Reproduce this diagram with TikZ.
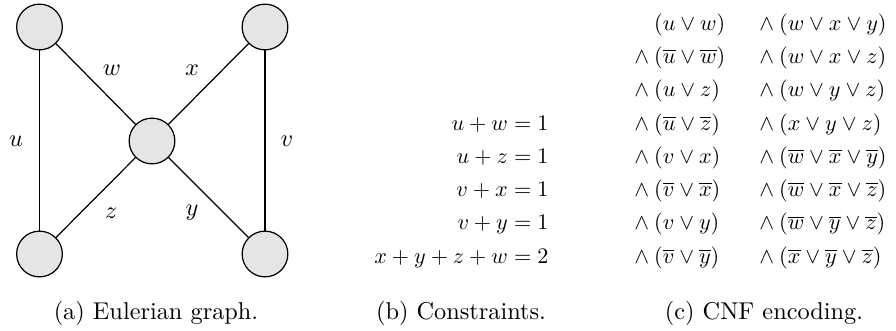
\documentclass[tikz,border=0pt]{standalone}
\usepackage{amsmath}
\begin{document}
\begin{tikzpicture}[x=0.4505pt,y=-0.4505pt,
  vtx/.style={circle,draw,fill=black!10,line width=0.55pt,minimum size=20.6pt,inner sep=0pt},
  edge/.style={line width=0.55pt},
  lbl/.style={inner sep=0pt,font=\fontsize{10.95}{13.6}\selectfont},
  eq/.style={anchor=base east,inner sep=0pt},
  cl/.style={anchor=base west,inner sep=0pt},
  capt/.style={anchor=base,inner sep=0pt,font=\fontsize{10.95}{13.6}\selectfont}]
\useasboundingbox (0,0) rectangle (896,330);
% graph
\node[vtx] (tl) at (39.5,27) {};
\node[vtx] (tr) at (265,27) {};
\node[vtx] (c) at (152,141) {};
\node[vtx] (bl) at (39.5,254) {};
\node[vtx] (br) at (265,254) {};
\draw[edge] (tl) -- (bl);
\draw[edge] (tr) -- (br);
\draw[edge] (tl) -- (c);
\draw[edge] (tr) -- (c);
\draw[edge] (bl) -- (c);
\draw[edge] (br) -- (c);
\node[lbl] (lw) at (112,70) {$w$};
\node[lbl] (lx) at (192,70) {$x$};
\node[lbl] (lu) at (16,141) {$u$};
\node[lbl] (lv) at (287,141) {$v$};
\node[lbl] (lz) at (111,213) {$z$};
\node[lbl] (ly) at (192,213) {$y$};
\node[capt] (capa) at (156,319) {(a) Eulerian graph.};
% constraints
\node[eq] (e1) at (549,130) {$u+w=1$};
\node[eq] (e2) at (549,163.3) {$u+z=1$};
\node[eq] (e3) at (549,196.6) {$v+x=1$};
\node[eq] (e4) at (549,229.9) {$v+y=1$};
\node[eq] (e5) at (549,263.2) {$x+y+z+w=2$};
\node[capt] (capb) at (461,319) {(b) Constraints.};
% CNF
\node[cl] (a1) at (634,30) {$\phantom{\land\:}(u\lor w)$};
\node[cl] (a2) at (634,63.3) {$\land\:(\overline{u}\lor\overline{w})$};
\node[cl] (a3) at (634,96.6) {$\land\:(u\lor z)$};
\node[cl] (a4) at (634,130) {$\land\:(\overline{u}\lor\overline{z})$};
\node[cl] (a5) at (634,163.3) {$\land\:(v\lor x)$};
\node[cl] (a6) at (634,196.6) {$\land\:(\overline{v}\lor\overline{x})$};
\node[cl] (a7) at (634,229.9) {$\land\:(v\lor y)$};
\node[cl] (a8) at (634,263.2) {$\land\:(\overline{v}\lor\overline{y})$};
\node[cl] (b1) at (759,30) {$\land\:(w\lor x\lor y)$};
\node[cl] (b2) at (759,63.3) {$\land\:(w\lor x\lor z)$};
\node[cl] (b3) at (759,96.6) {$\land\:(w\lor y\lor z)$};
\node[cl] (b4) at (759,130) {$\land\:(x\lor y\lor z)$};
\node[cl] (b5) at (759,163.3) {$\land\:(\overline{w}\lor\overline{x}\lor\overline{y})$};
\node[cl] (b6) at (759,196.6) {$\land\:(\overline{w}\lor\overline{x}\lor\overline{z})$};
\node[cl] (b7) at (759,229.9) {$\land\:(\overline{w}\lor\overline{y}\lor\overline{z})$};
\node[cl] (b8) at (759,263.2) {$\land\:(\overline{x}\lor\overline{y}\lor\overline{z})$};
\node[capt] (capc) at (764,319) {(c) CNF encoding.};
\end{tikzpicture}
\end{document}
